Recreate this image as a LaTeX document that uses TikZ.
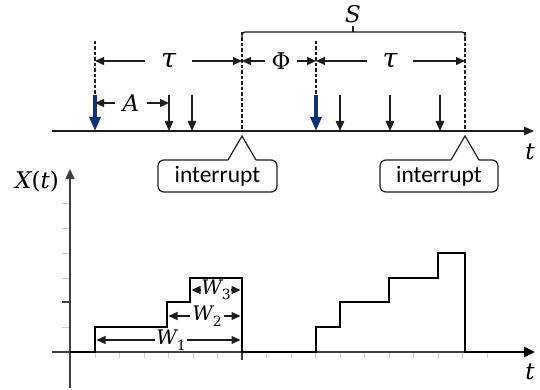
\documentclass[tikz,border=0pt]{standalone}
\usepackage{fontspec}
\setmainfont{Carlito}
\newfontfamily\mfont{DejaVu Serif}
\usetikzlibrary{arrows.meta}
\definecolor{navy}{HTML}{10306E}
\definecolor{ink}{HTML}{1E1E1E}
\definecolor{ticklight}{HTML}{D0D0D0}
\definecolor{axisgray}{HTML}{404040}
\newcommand{\mi}[1]{{\mfont\itshape #1}}
\newcommand{\mup}[1]{{\mfont #1}}
\newcommand{\wsub}[1]{{\mfont\itshape W}\raisebox{-0.28em}{\fontsize{14}{16}\selectfont\mfont #1}}
\begin{document}
\begin{tikzpicture}[x=1pt,y=-1pt,
  tipped/.style={-{Triangle[length=10pt,width=8.5pt]}},
  evarrow/.style={-{Triangle[length=10pt,width=8.5pt]}, line width=1.3pt, draw=ink},
  bluearrow/.style={-{Triangle[length=14pt,width=11pt]}, line width=3.2pt, draw=navy},
  guide/.style={line width=1.2pt, dash pattern=on 3.5pt off 2pt, draw=ink},
  dimarrow/.style={-{Triangle[length=9pt,width=8pt]}, line width=1.3pt, draw=ink},
  mlabel/.style={font=\fontsize{23}{27}\selectfont, inner sep=0pt},
  taulabel/.style={font=\fontsize{27}{30}\selectfont, inner sep=0pt},
  wlabel/.style={font=\fontsize{20}{24}\selectfont, inner sep=0pt},
  callbox/.style={draw=ink, line width=1.2pt, rounded corners=6pt, minimum height=32pt,
     inner sep=0pt, font=\fontsize{23.5}{27}\selectfont},
  stepline/.style={line width=2.8pt, draw=black, line join=miter},
]
\useasboundingbox (0,0) rectangle (540,390);

% ---------------- top timeline ----------------
\coordinate (tl0) at (52,131);
\coordinate (tl1) at (534,131);
\draw[tipped, line width=1.4pt, draw=ink] (tl0) -- (tl1);
\node[mlabel] (tlab) at (530,152) {\mi{t}};

% guides
\coordinate (g1t) at (95,41);   \coordinate (g1b) at (95,95);
\coordinate (g2t) at (242,32);  \coordinate (g2b) at (242,131);
\coordinate (g3t) at (316,41);  \coordinate (g3b) at (316,95);
\coordinate (g4t) at (465,32);  \coordinate (g4b) at (465,131);
\draw[guide] (g1t) -- (g1b);
\draw[guide] (g2t) -- (g2b);
\draw[guide] (g3t) -- (g3b);
\draw[guide] (g4t) -- (g4b);

% S bracket
\coordinate (sb1) at (242,40);
\coordinate (sb2) at (465,40);
\draw[line width=1.3pt, draw=ink, rounded corners=3pt] (sb1) -- (242,32) -- (465,32) -- (sb2);
\coordinate (sm) at (353,32);
\node[mlabel] (slab) at (353,14) {\mi{S}};
\draw[line width=1.3pt, draw=ink] (sm) -- (353,26);

% blue arrivals
\coordinate (b1t) at (95,95);  \coordinate (b1b) at (95,131);
\coordinate (b2t) at (316,95); \coordinate (b2b) at (316,131);
\draw[bluearrow] (b1t) -- (b1b);
\draw[bluearrow] (b2t) -- (b2b);

% black arrivals
\foreach \n/\x in {a/169,b/192,c/340,d/390,e/440}{
  \coordinate (e\n t) at (\x,95);
  \coordinate (e\n b) at (\x,131);
  \draw[evarrow] (e\n t) -- (e\n b);
}

% dimension tau 1
\node[taulabel, minimum width=47pt] (tau1) at (168.5,61) {\mi{τ}};
\coordinate (d1l) at (95,61); \coordinate (d1r) at (242,61);
\draw[dimarrow] (tau1.west) -- (d1l);
\draw[dimarrow] (tau1.east) -- (d1r);
% Phi
\node[mlabel, minimum width=32pt] (phi) at (281,61) {\mup{Φ}};
\coordinate (d2l) at (242,61); \coordinate (d2r) at (316,61);
\draw[dimarrow] (phi.west) -- (d2l);
\draw[dimarrow] (phi.east) -- (d2r);
% tau 2
\node[taulabel, minimum width=46pt] (tau2) at (390,61) {\mi{τ}};
\coordinate (d3l) at (316,61); \coordinate (d3r) at (465,61);
\draw[dimarrow] (tau2.west) -- (d3l);
\draw[dimarrow] (tau2.east) -- (d3r);
% A
\node[mlabel, minimum width=32pt] (alab) at (131,103) {\mi{A}};
\coordinate (d4l) at (95,103); \coordinate (d4r) at (169,103);
\draw[dimarrow] (alab.west) -- (d4l);
\draw[dimarrow] (alab.east) -- (d4r);

% interrupt callouts
\node[callbox, minimum width=119pt] (ib1) at (217.5,176) {interrupt};
\coordinate (p1) at (242,136);
\fill[white] (227.5,161.2) -- (p1) -- (256.5,161.2) -- cycle;
\draw[line width=1.2pt, draw=ink, line join=miter] (228,160) -- (p1) -- (256,160);
\node[callbox, minimum width=118pt] (ib2) at (439,176) {interrupt};
\coordinate (p2) at (465,136);
\fill[white] (450.5,161.2) -- (p2) -- (479.5,161.2) -- cycle;
\draw[line width=1.2pt, draw=ink, line join=miter] (451,160) -- (p2) -- (479,160);

% ---------------- lower plot ----------------
% ticks
\foreach \y in {203,228,253,278,327}{
  \draw[ticklight, line width=0.9pt] (62,\y) -- (70,\y);
}
\draw[axisgray, line width=1.1pt] (62,302) -- (70,302);
\foreach \k in {0,...,16}{
  \pgfmathsetmacro{\xx}{95+24.5*\k}
  \draw[ticklight, line width=0.9pt] (\xx,352) -- (\xx,358);
}
\draw[axisgray, line width=1.1pt] (242,352) -- (242,360);

% axes
\coordinate (ya0) at (70,388);
\coordinate (ya1) at (70,169);
\draw[axisgray, line width=1.5pt, -{Triangle[length=10pt,width=9pt]}] (ya0) -- (ya1);
\node[mlabel] (xlab) at (37,182) {\mi{X}\mup{(}\mi{t}\mup{)}};
\coordinate (xa0) at (52,352);
\coordinate (xa1) at (520,352);
\draw[axisgray, line width=1.3pt] (xa0) -- (xa1);
\node[mlabel] (tlab2) at (530,372) {\mi{t}};

% step function
\coordinate (s0) at (70,352);
\coordinate (s1) at (535,352);
\draw[stepline, -{Triangle[length=11pt,width=10pt]}] (s0) -- (95,352) -- (95,327) -- (167,327) -- (167,302) -- (190,302)
  -- (190,278) -- (242,278) -- (242,352) -- (316,352) -- (316,327) -- (340,327)
  -- (340,302) -- (389,302) -- (389,278) -- (438,278) -- (438,253) -- (465,253)
  -- (465,352) -- (s1);

% W dimensions
\node[wlabel, minimum width=32pt] (w1) at (171,340) {\wsub{1}};
\coordinate (w1l) at (96.5,340); \coordinate (w1r) at (240.5,340);
\draw[dimarrow] (w1.west) -- (w1l);
\draw[dimarrow] (w1.east) -- (w1r);
\node[wlabel, minimum width=34pt] (w2) at (207,316) {\wsub{2}};
\coordinate (w2l) at (168.5,316); \coordinate (w2r) at (240.5,316);
\draw[dimarrow] (w2.west) -- (w2l);
\draw[dimarrow] (w2.east) -- (w2r);
\node[wlabel, minimum width=27pt] (w3) at (216,290) {\wsub{3}};
\coordinate (w3l) at (191.5,290); \coordinate (w3r) at (240.5,290);
\draw[dimarrow] (w3.west) -- (w3l);
\draw[dimarrow] (w3.east) -- (w3r);
\end{tikzpicture}
\end{document}
